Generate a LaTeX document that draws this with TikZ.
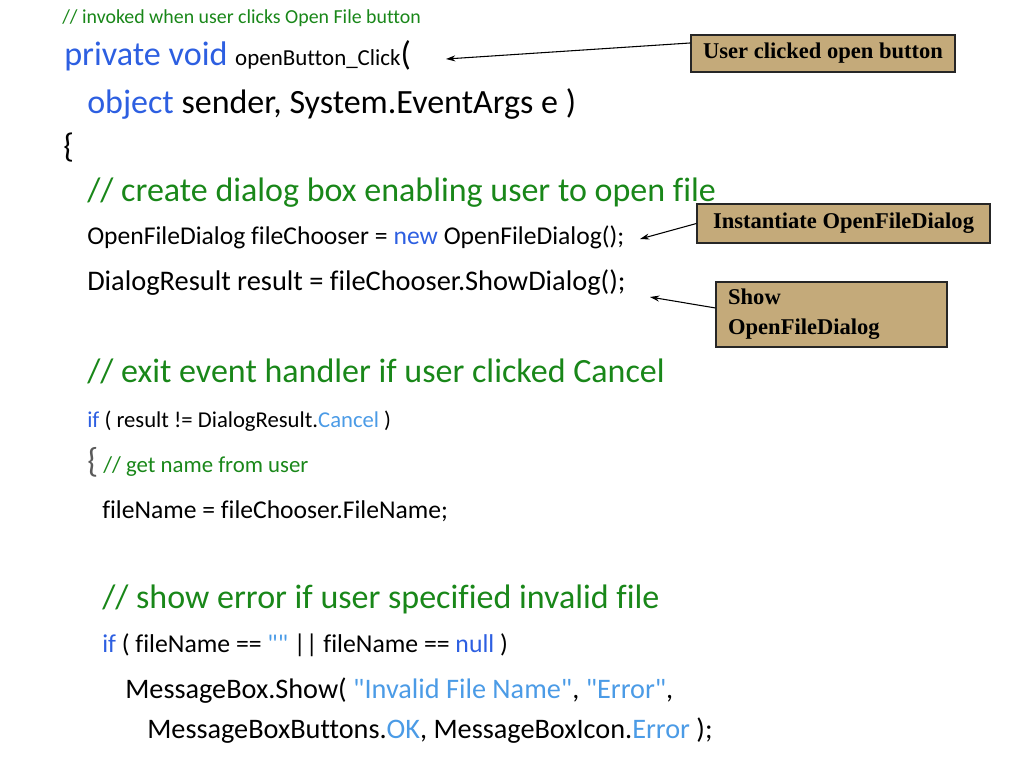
\documentclass[tikz,border=0pt]{standalone}
\usepackage{fontspec}
\usepackage{tikz}
\usetikzlibrary{arrows.meta, positioning}
\newfontfamily\codefont[Ligatures=NoCommon]{Carlito}
\newfontfamily\notefont{Liberation Serif}
\newcommand{\fsz}[1]{\fontsize{#1}{#1}\selectfont}
\definecolor{cmtgreen}{RGB}{25,135,25}
\definecolor{kwblue}{RGB}{45,95,225}
\definecolor{litblue}{RGB}{75,155,230}
\definecolor{bracegray}{RGB}{90,90,90}
\definecolor{notetan}{RGB}{196,170,122}

\begin{document}
\begin{tikzpicture}[x=0.75pt, y=-0.75pt,
  code/.style={anchor=base west, inner sep=0pt, font=\codefont\fsz{#1}},
  note/.style={draw=black!85, line width=0.9pt, fill=notetan, font=\notefont\bfseries\fontsize{16.9pt}{22.5pt}\selectfont},
  pointer/.style={-{Stealth[length=7pt, width=4.5pt]}, line width=0.8pt}]
  \useasboundingbox (0,0) rectangle (1024,768);

  \node[code=14.9pt, text=cmtgreen] (cmtinvoke) at (62,23) {// invoked when user clicks Open File button};
  \node[code=25.6pt] (sig) at (64,65) {{\color{kwblue}private void} {\fsz{17.2pt}openButton\_Click}(};
  \node[code=25.5pt] (params) at (87,113) {{\color{kwblue}object} sender, System.EventArgs e )};
  \node[code=25.5pt] (open) at (63,157) {\{};
  \node[code=25.5pt, text=cmtgreen] (cmtcreate) at (87,201) {// create dialog box enabling user to open file};
  \node[code=19.2pt] (newdlg) at (87,244) {OpenFileDialog fileChooser = {\color{kwblue}new} OpenFileDialog();};
  \node[code=21.3pt] (showdlg) at (87,290) {DialogResult result = fileChooser.ShowDialog();};
  \node[code=25.5pt, text=cmtgreen] (cmtexit) at (87,382) {// exit event handler if user clicked Cancel};
  \node[code=17pt] (ifcancel) at (87,427) {{\color{kwblue}if} ( result != DialogResult.{\color{litblue}Cancel} )};
  \node[code=17.1pt] (getname) at (87,472) {{\color{bracegray}\fsz{26pt}\{} {\color{cmtgreen}// get name from user}};
  \node[code=19.2pt] (assign) at (102,518) {fileName = fileChooser.FileName;};
  \node[code=25.5pt, text=cmtgreen] (cmterror) at (102,608) {// show error if user specified invalid file};
  \node[code=19.3pt] (ifempty) at (102,652) {{\color{kwblue}if} ( fileName == {\color{litblue}""} || fileName == {\color{kwblue}null} )};
  \node[code=21.2pt] (msgshow) at (125,698) {MessageBox.Show( {\color{litblue}"Invalid File Name"}, {\color{litblue}"Error"},};
  \node[code=21.2pt] (msgargs) at (147,738) {MessageBoxButtons.{\color{litblue}OK}, MessageBoxIcon.{\color{litblue}Error} );};

  \node[note, minimum width=198pt, minimum height=27.75pt] (clicknote) at (823,53.5) {User clicked open button};
  \node[note, minimum width=219.75pt, minimum height=29.25pt] (instnote) at (843.5,223.5) {Instantiate OpenFileDialog};
  \node[note, minimum width=173.25pt, minimum height=48.75pt, align=left, text width=155pt] (shownote) at (831.5,314.5) {Show\\OpenFileDialog};

  \coordinate (sigtip) at (446,59);
  \coordinate (insttip) at (640,239);
  \coordinate (showtip) at (650,297);
  \draw[pointer] ([yshift=7.9pt]clicknote.west) -- (sigtip);
  \draw[pointer] (instnote.west) -- (insttip);
  \draw[pointer] ([yshift=4.9pt]shownote.west) -- (showtip);
\end{tikzpicture}
\end{document}
